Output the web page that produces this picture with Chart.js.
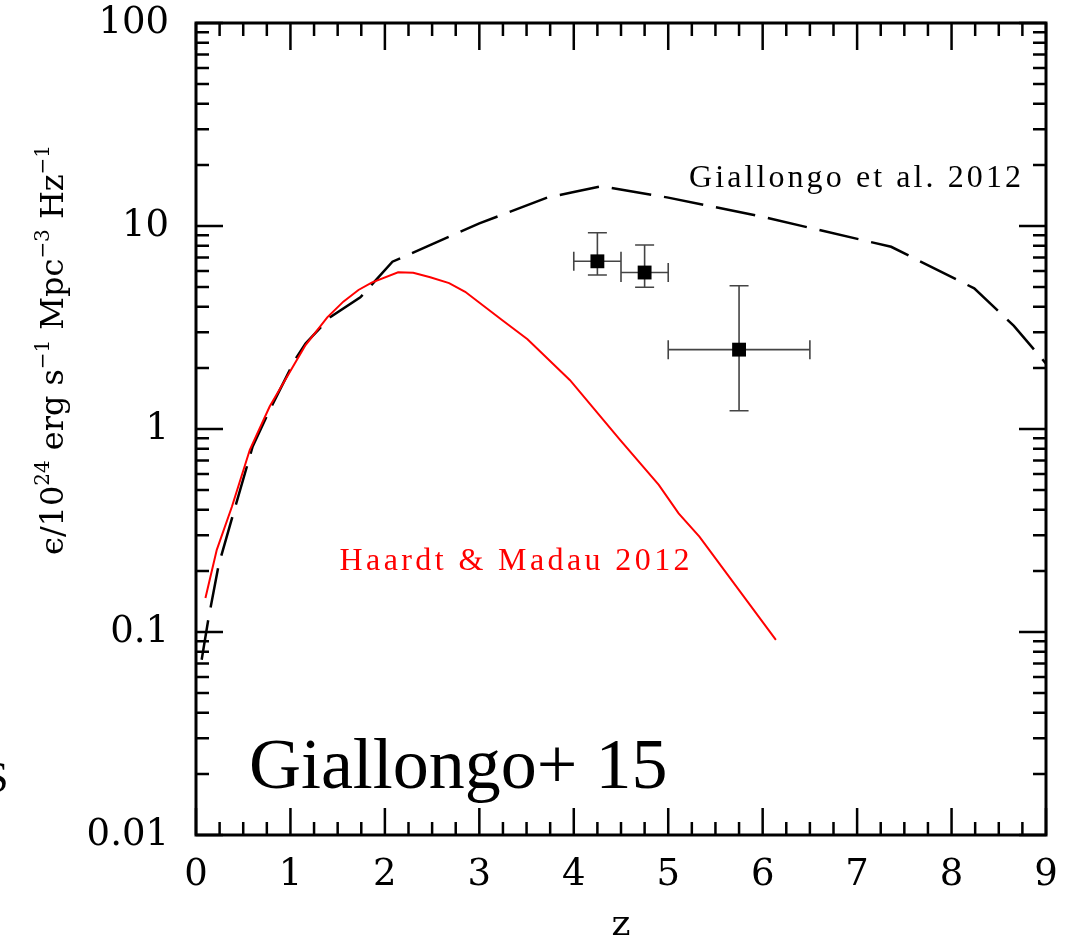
<!DOCTYPE html>
<html>
<head>
<meta charset="utf-8">
<script src="https://cdn.jsdelivr.net/npm/chart.js@4.4.1/dist/chart.umd.min.js"></script>
<style>
html, body { margin: 0; padding: 0; background: #fff; }
#wrap { width: 1073px; height: 944px; }
</style>
</head>
<body>
<div id="wrap"><canvas id="emis" width="1073" height="944"></canvas></div>
<script>
// Haardt & Madau 2012 (red)
const zHM   = [0.10, 0.22, 0.38, 0.57, 0.78, 1.16, 1.39, 1.56, 1.72, 1.86, 2.14, 2.30, 2.48, 2.68, 2.85, 3.24, 3.51, 3.96, 4.49, 4.90, 5.11, 5.33, 6.14];
const epsHM = [0.147, 0.254, 0.414, 0.79, 1.29, 2.59, 3.55, 4.24, 4.84, 5.26, 5.92, 5.88, 5.59, 5.23, 4.74, 3.44, 2.77, 1.74, 0.883, 0.530, 0.384, 0.295, 0.0914];

// Giallongo et al. 2012 (dashed)
const zG12   = [0.06, 0.13, 0.24, 0.40, 0.60, 0.78, 1.05, 1.16, 1.42, 1.74, 2.08, 3.0, 3.72, 4.0, 4.29, 5.0, 6.0, 7.36, 8.24, 8.66, 9.0];
const epsG12 = [0.073, 0.115, 0.214, 0.39, 0.82, 1.24, 2.2, 2.64, 3.55, 4.45, 6.67, 10.3, 13.8, 14.7, 15.7, 13.8, 11.1, 7.9, 4.93, 3.22, 2.1];

// Giallongo+ 15 points with error bars
const zPts   = [4.25, 4.75, 5.75];
const zLo    = [4.0, 4.5, 5.0];
const zHi    = [4.5, 5.0, 6.5];
const epsPts = [6.7, 5.9, 2.46];
const epsLo  = [5.74, 4.99, 1.23];
const epsHi  = [9.27, 8.06, 5.08];

const xTicks = [0, 1, 2, 3, 4, 5, 6, 7, 8, 9];
const yTicks = [0.01, 0.1, 1, 10, 100];
const yTickLabels = ['0.01', '0.1', '1', '10', '100'];

const tickFont = { family: 'DejaVu Serif', size: 37 };

function pts(xs, ys) {
    return xs.map((v, i) => ({ x: v, y: ys[i] }));
}

function spacedText(ctx, str, x, y, width) {
    ctx.letterSpacing = '0px';
    const w = ctx.measureText(str).width;
    ctx.letterSpacing = ((width - w) / (str.length - 1)) + 'px';
    ctx.fillText(str, x, y);
    ctx.letterSpacing = '0px';
}

const errorBars = {
    id: 'errorBars',
    beforeDatasetsDraw(chart) {
        const { ctx, scales: { x, y } } = chart;
        ctx.save();
        ctx.strokeStyle = '#444';
        ctx.lineWidth = 1.6;
        ctx.beginPath();
        zPts.forEach((z, i) => {
            const px = x.getPixelForValue(z), py = y.getPixelForValue(epsPts[i]);
            const x0 = x.getPixelForValue(zLo[i]), x1 = x.getPixelForValue(zHi[i]);
            const y0 = y.getPixelForValue(epsLo[i]), y1 = y.getPixelForValue(epsHi[i]);
            ctx.moveTo(x0, py); ctx.lineTo(x1, py);
            ctx.moveTo(x0, py - 9.5); ctx.lineTo(x0, py + 9.5);
            ctx.moveTo(x1, py - 9.5); ctx.lineTo(x1, py + 9.5);
            ctx.moveTo(px, y0); ctx.lineTo(px, y1);
            ctx.moveTo(px - 9.5, y0); ctx.lineTo(px + 9.5, y0);
            ctx.moveTo(px - 9.5, y1); ctx.lineTo(px + 9.5, y1);
        });
        ctx.stroke();
        ctx.restore();
    }
};

const frame = {
    id: 'frame',
    afterDraw(chart) {
        const { ctx, chartArea: a, scales: { x, y } } = chart;
        ctx.save();
        ctx.strokeStyle = '#000';
        ctx.lineWidth = 2.5;
        ctx.beginPath();
        for (let i = 0; i <= 36; i++) {
            const px = x.getPixelForValue(i / 4);
            const len = i % 4 === 0 ? 27 : 13;
            ctx.moveTo(px, a.bottom); ctx.lineTo(px, a.bottom - len);
            ctx.moveTo(px, a.top); ctx.lineTo(px, a.top + len);
        }
        for (let d = 0; d < yTicks.length; d++) {
            for (let m = 1; m <= 9; m++) {
                if (d === yTicks.length - 1 && m > 1) break;
                const py = y.getPixelForValue(yTicks[d] * m);
                const len = m === 1 ? 27 : 13;
                ctx.moveTo(a.left, py); ctx.lineTo(a.left + len, py);
                ctx.moveTo(a.right, py); ctx.lineTo(a.right - len, py);
            }
        }
        ctx.stroke();
        ctx.lineWidth = 3;
        ctx.strokeRect(a.left, a.top, a.right - a.left, a.bottom - a.top);

        // curve labels
        ctx.textBaseline = 'middle';
        ctx.textAlign = 'left';
        ctx.font = '32px "Liberation Serif"';
        ctx.fillStyle = '#000';
        spacedText(ctx, 'Giallongo et al. 2012', x.getPixelForValue(5.22), y.getPixelForValue(17.1), 332);
        ctx.fillStyle = '#ff0000';
        spacedText(ctx, 'Haardt & Madau 2012', x.getPixelForValue(1.52), y.getPixelForValue(0.221), 350);

        ctx.fillStyle = '#000';
        ctx.textBaseline = 'alphabetic';
        ctx.font = '72px "Liberation Serif"';
        ctx.fillText('Giallongo+ 15', x.getPixelForValue(0.56), y.getPixelForValue(0.0171));

        // stray glyph from the neighbouring panel
        ctx.font = '44px "Liberation Serif"';
        ctx.fillText('S', -16, 792);

        // y axis title with superscripts
        const segs = [['\u03F5/10', 0], ['24', 1], [' erg s', 0], ['\u22121', 1], [' Mpc', 0], ['\u22123', 1], [' Hz', 0], ['\u22121', 1]];
        const big = '32px "DejaVu Serif"', small = '20px "DejaVu Serif"';
        let total = 0;
        segs.forEach(s => { ctx.font = s[1] ? small : big; total += ctx.measureText(s[0]).width; });
        const nChars = segs.reduce((n, s) => n + s[0].length, 0);
        const sp = (410 - total) / nChars;
        ctx.translate(63, 350);
        ctx.rotate(-Math.PI / 2);
        let cx = -205;
        segs.forEach(s => {
            ctx.font = s[1] ? small : big;
            ctx.letterSpacing = sp + 'px';
            ctx.fillText(s[0], cx, s[1] ? -14 : 0);
            cx += ctx.measureText(s[0]).width;
        });
        ctx.letterSpacing = '0px';
        ctx.restore();
    }
};

new Chart(document.getElementById('emis'), {
    type: 'scatter',
    data: {
        datasets: [
            {
                label: 'Giallongo+ 15',
                data: pts(zPts, epsPts),
                order: 0,
                pointStyle: 'rect',
                pointRadius: 9.8,
                backgroundColor: '#000',
                borderColor: '#000',
                borderWidth: 0
            },
            {
                label: 'Haardt & Madau 2012',
                data: pts(zHM, epsHM),
                order: 1,
                showLine: true,
                pointRadius: 0,
                borderColor: '#ff0000',
                borderWidth: 2,
                tension: 0
            },
            {
                label: 'Giallongo et al. 2012',
                data: pts(zG12, epsG12),
                order: 2,
                showLine: true,
                pointRadius: 0,
                borderColor: '#000',
                borderWidth: 2.5,
                borderDash: [40, 13],
                tension: 0
            }
        ]
    },
    options: {
        responsive: false,
        animation: false,
        events: [],
        layout: { padding: { top: 23, right: 27, left: 0, bottom: 0 }, autoPadding: false },
        plugins: { legend: { display: false }, tooltip: { enabled: false } },
        scales: {
            x: {
                type: 'linear',
                min: 0,
                max: 9,
                grid: { display: false, drawTicks: false },
                border: { display: false },
                afterFit(scale) {
                    scale.height = 109;
                    scale.paddingLeft = 0;
                    scale.paddingRight = 0;
                },
                afterBuildTicks(scale) { scale.ticks = xTicks.map(v => ({ value: v })); },
                ticks: {
                    autoSkip: false,
                    maxRotation: 0,
                    padding: 18,
                    color: '#000',
                    font: tickFont,
                    callback: v => String(v)
                },
                title: {
                    display: true,
                    text: 'z',
                    color: '#000',
                    padding: 0,
                    font: { family: 'DejaVu Serif', size: 36, lineHeight: 1 }
                }
            },
            y: {
                type: 'logarithmic',
                min: 0.01,
                max: 100,
                grid: { display: false, drawTicks: false },
                border: { display: false },
                afterFit(scale) {
                    scale.width = 196;
                    scale.paddingTop = 0;
                    scale.paddingBottom = 0;
                },
                afterBuildTicks(scale) { scale.ticks = yTicks.map(v => ({ value: v })); },
                ticks: {
                    autoSkip: false,
                    padding: 27,
                    color: '#000',
                    font: tickFont,
                    callback: (v, i) => yTickLabels[i]
                }
            }
        }
    },
    plugins: [errorBars, frame]
});
</script>
</body>
</html>
